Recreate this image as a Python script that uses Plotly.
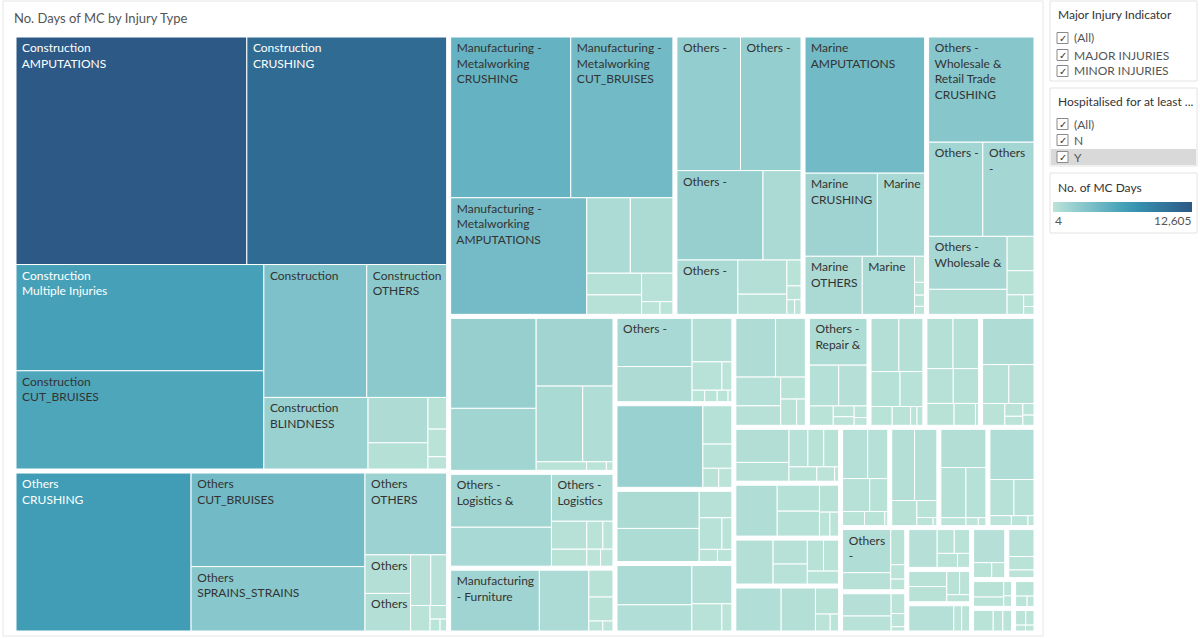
import plotly.graph_objects as go
from plotly.colors import sample_colorscale

W, H = 1200, 638

# ---------------- data (No. of MC days per industry / injury type) ----------------
days_construction = [12605, 10911, 6320, 5843, 3282, 2549, 1790, 652, 377, 142, 124, 55]
text_construction = ["Construction<br>AMPUTATIONS", "Construction<br>CRUSHING",
                     "Construction<br>Multiple Injuries", "Construction<br>CUT_BRUISES",
                     "Construction", "Construction<br>OTHERS", "Construction<br>BLINDNESS"]

days_others = [6743, 3968, 2731, 1629, 429, 418, 249, 196, 121, 55, 29, 19]
text_others = ["Others<br>CRUSHING", "Others<br>CUT_BRUISES", "Others<br>SPRAINS_STRAINS",
               "Others<br>OTHERS", "Others", "Others"]

days_metalworking = [4699, 3994, 3861, 800, 782, 289, 260, 216, 57, 40]
text_metalworking = ["Manufacturing -<br>Metalworking<br>CRUSHING",
                     "Manufacturing -<br>Metalworking<br>CUT_BRUISES",
                     "Manufacturing -<br>Metalworking<br>AMPUTATIONS"]

days_others_a = [2095, 1996, 1900, 839, 817, 413, 244, 90, 48, 28, 23]
text_others_a = ["Others -", "Others -", "Others -", "", "Others -"]

days_marine = [4022, 1485, 970, 821, 749, 65, 32, 28, 20]
text_marine = ["Marine<br>AMPUTATIONS", "Marine<br>CRUSHING", "Marine", "Marine<br>OTHERS", "Marine"]

days_wholesale = [2750, 1266, 1196, 1032, 487, 229, 161, 80, 30, 20]
text_wholesale = ["Others -<br>Wholesale &<br>Retail Trade<br>CRUSHING", "Others -",
                  "Others<br>-", "Others -<br>Wholesale &"]

days_g07 = [1907, 1314, 1289, 872, 568, 107, 42, 14]
days_logistics = [1343, 988, 727, 249, 151, 113, 71, 59, 53]
text_logistics = ["Others -<br>Logistics &", "", "Others -<br>Logistics"]
days_furniture = [1389, 774, 167, 149, 36, 26]
text_furniture = ["Manufacturing<br>- Furniture"]
days_g10 = [925, 675, 442, 216, 72, 37, 37, 32, 11]
text_g10 = ["Others -"]
days_g11 = [1793, 284, 179, 77, 64]
days_g12 = [786, 701, 222, 185, 81, 57, 45]
days_g13 = [761, 508, 396, 211, 70]
days_g14 = [603, 452, 334, 226, 140, 108, 59]
days_repair = [705, 313, 302, 121, 59, 47, 39, 26]
text_repair = ["Others -<br>Repair &"]
days_g16 = [390, 337, 267, 210, 105, 91, 32, 29]
days_g17 = [346, 338, 242, 232, 157, 123, 18]
days_g18 = [626, 269, 258, 128, 61, 43, 34, 30]
days_g19 = [464, 263, 187, 157, 147, 105, 67, 15]
days_g20 = [556, 290, 278, 136, 66, 55]
days_g21 = [437, 219, 183, 134, 125, 108]
days_g22 = [521, 394, 161, 67, 38]
days_g23 = [330, 264, 239, 159, 82, 76, 11]
days_g24 = [435, 423, 168, 91, 35, 8]
days_g25 = [460, 336, 268, 53, 26, 16]
days_g26 = [592, 233, 194, 57, 44, 16]
days_g27 = [555, 220, 132, 54, 40]
text_g27 = ["Others<br>-"]
days_g28 = [300, 202, 75, 50, 16]
days_g29 = [298, 113, 101, 79, 47]
days_g30 = [164, 164, 85, 66, 46]
days_g31 = [330, 58, 58]
days_g32 = [297, 78, 56]
days_g33 = [201, 100, 57]
days_g34 = [141, 85, 34, 25]
days_g35 = [126, 62, 56]
days_g36 = [89, 40, 24]
days_g37 = [51, 41, 20, 17]

color_min, color_max = 4, 12605
blue_teal = ["#bce4d8", "#aedcd5", "#a1d5d2", "#95cecf", "#89c8cc", "#7ec1ca", "#72bac6",
             "#66b2c2", "#59acbe", "#4ba5ba", "#419eb6", "#3b96b2", "#358ead", "#3586a7",
             "#347ea1", "#32779b", "#316f96", "#2f6790", "#2d608a", "#2c5985"]

groups = [
    ("Construction", days_construction, text_construction),
    ("Others", days_others, text_others),
    ("Manufacturing - Metalworking", days_metalworking, text_metalworking),
    ("Others - (industry 4)", days_others_a, text_others_a),
    ("Marine", days_marine, text_marine),
    ("Others - Wholesale & Retail Trade", days_wholesale, text_wholesale),
    ("Industry 07", days_g07, []),
    ("Others - Logistics &", days_logistics, text_logistics),
    ("Manufacturing - Furniture", days_furniture, text_furniture),
    ("Others - (industry 10)", days_g10, text_g10),
    ("Industry 11", days_g11, []),
    ("Industry 12", days_g12, []),
    ("Industry 13", days_g13, []),
    ("Industry 14", days_g14, []),
    ("Others - Repair &", days_repair, text_repair),
    ("Industry 16", days_g16, []),
    ("Industry 17", days_g17, []),
    ("Industry 18", days_g18, []),
    ("Industry 19", days_g19, []),
    ("Industry 20", days_g20, []),
    ("Industry 21", days_g21, []),
    ("Industry 22", days_g22, []),
    ("Industry 23", days_g23, []),
    ("Industry 24", days_g24, []),
    ("Industry 25", days_g25, []),
    ("Industry 26", days_g26, []),
    ("Others - (industry 27)", days_g27, text_g27),
    ("Industry 28", days_g28, []),
    ("Industry 29", days_g29, []),
    ("Industry 30", days_g30, []),
    ("Industry 31", days_g31, []),
    ("Industry 32", days_g32, []),
    ("Industry 33", days_g33, []),
    ("Industry 34", days_g34, []),
    ("Industry 35", days_g35, []),
    ("Industry 36", days_g36, []),
    ("Industry 37", days_g37, []),
]


def pad_lines(s):
    # small left inset like Tableau's mark labels
    return "<br>".join("\u00a0" + part for part in s.split("<br>")) if s else ""


# ---------------- build treemap nodes ----------------
ids, labels, parents, values, colors, texts, tcolors, lwidths = [], [], [], [], [], [], [], []
ids.append("root"); labels.append(" "); parents.append(""); values.append(0)
colors.append("white"); texts.append(" "); tcolors.append("white"); lwidths.append(0)
for name, days, txt in groups:
    ids.append(name); labels.append(" "); parents.append("root"); values.append(0)
    colors.append("white"); texts.append(" "); tcolors.append("white"); lwidths.append(0)
    for i, v in enumerate(days):
        ids.append(f"{name} | {i + 1}")
        labels.append(f"{name} | {i + 1}")
        parents.append(name)
        values.append(v)
        t = (v - color_min) / (color_max - color_min)
        colors.append(sample_colorscale(blue_teal, [t])[0])
        texts.append(pad_lines(txt[i]) if i < len(txt) else "")
        tcolors.append("white" if v > 6000 else "#333333")
        lwidths.append(1)

fig = go.Figure()
fig.add_trace(go.Treemap(
    ids=ids, labels=labels, parents=parents, values=values,
    branchvalues="remainder", sort=True,
    text=texts, textinfo="text", textposition="top left",
    textfont=dict(family="Lato, 'Open Sans', sans-serif", size=12, color=tcolors),
    marker=dict(colors=colors, line=dict(color="white", width=lwidths),
                pad=dict(t=2, l=2, r=2, b=2), depthfade=False),
    tiling=dict(packing="squarify", squarifyratio=1.618034, pad=0),
    pathbar=dict(visible=False),
    hoverinfo="skip",
    domain=dict(x=[12 / W, 1038 / W], y=[1 - 635 / H, 1 - 33 / H]),
))

# colour legend (continuous scale)
fig.add_trace(go.Scatter(
    x=[None], y=[None], mode="markers", hoverinfo="skip", showlegend=False,
    marker=dict(color=[color_min], cmin=color_min, cmax=color_max, colorscale=blue_teal,
                showscale=True,
                colorbar=dict(orientation="h", x=1053 / W, xanchor="left",
                              y=1 - 202 / H, yanchor="top", len=139, lenmode="pixels",
                              thickness=10, thicknessmode="pixels", outlinewidth=0,
                              showticklabels=False, ticks="", xpad=0, ypad=0)),
))


def px(x):
    return x / W


def py(y):
    return 1 - y / H


shapes = []
annotations = []


def box(x0, y0, x1, y1, line="#e3e3e3", fill="white", width=1):
    shapes.append(dict(type="rect", xref="paper", yref="paper", x0=px(x0), x1=px(x1),
                       y0=py(y1), y1=py(y0), line=dict(color=line, width=width),
                       fillcolor=fill, layer="below" if fill == "white" else "above"))


def label(x, y, s, size=12, color="#555555", anchor="left"):
    annotations.append(dict(x=px(x), y=py(y), xref="paper", yref="paper", text=s,
                            showarrow=False, xanchor=anchor, yanchor="middle",
                            font=dict(family="Lato, 'Open Sans', sans-serif", size=size, color=color)))


# sheet frame and title
box(3, 1, 1043, 636, line="#e6e6e6")
label(12, 18, "No. Days of MC by Injury Type", size=13, color="#555555")

# filter cards
box(1050, 1, 1197, 81)
box(1050, 88, 1197, 166)
box(1050, 173, 1197, 233)
shapes.append(dict(type="rect", xref="paper", yref="paper", x0=px(1051), x1=px(1196),
                   y0=py(165), y1=py(149), line=dict(width=0), fillcolor="#d9d9d9", layer="below"))

label(1056, 14, "Major Injury Indicator", color="#333333")
label(1056, 101, "Hospitalised for at least ...", color="#333333")
label(1056, 187, "No. of MC Days", color="#333333")

filter_items = [(38, "(All)"), (55, "MAJOR INJURIES"), (71, "MINOR INJURIES"),
                (124, "(All)"), (140, "N"), (157, "Y")]
for yy, s in filter_items:
    shapes.append(dict(type="rect", xref="paper", yref="paper", x0=px(1057), x1=px(1068),
                       y0=py(yy + 5.5), y1=py(yy - 5.5), line=dict(color="#8a8a8a", width=1),
                       fillcolor="white", layer="above"))
    label(1062.5, yy, "✓", size=10, color="#333333", anchor="center")
    label(1072, yy, s, color="#555555")

label(1053, 220, "4", color="#555555")
label(1194, 220, "12,605", color="#555555", anchor="right")

fig.update_layout(
    width=W, height=H, margin=dict(l=0, r=0, t=0, b=0),
    paper_bgcolor="white", plot_bgcolor="white",
    xaxis=dict(visible=False), yaxis=dict(visible=False),
    shapes=shapes, annotations=annotations,
    uniformtext=dict(minsize=12, mode="show"),
    showlegend=False,
)

fig.write_html("out.html")
